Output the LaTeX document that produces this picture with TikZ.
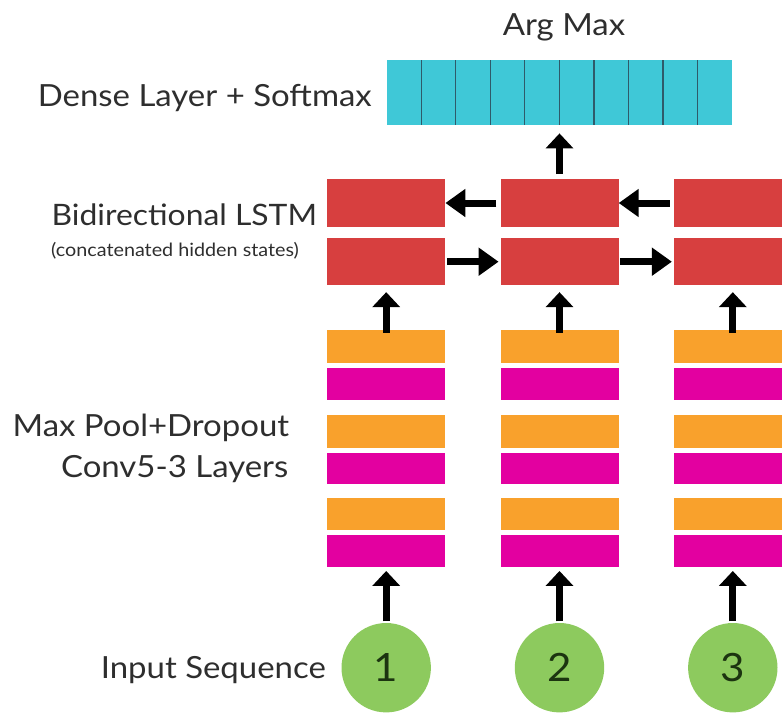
\documentclass[tikz,border=0pt]{standalone}
\usepackage{fontspec}
\setmainfont{Lato}[FakeStretch=1.08]
\usetikzlibrary{arrows.meta,calc}
\definecolor{densecol}{HTML}{3FC8D7}
\definecolor{lstmcol}{HTML}{D73F3F}
\definecolor{poolcol}{HTML}{F9A12C}
\definecolor{convcol}{HTML}{E300A0}
\definecolor{inputcol}{HTML}{8DCA5E}
\definecolor{labelcol}{HTML}{2E2E2E}
\definecolor{digitcol}{HTML}{1C3410}
\definecolor{cellline}{HTML}{2F5A6A}
\tikzset{
  box/.style={rectangle, draw=none, inner sep=0pt, minimum width=118pt},
  lstmbox/.style={box, fill=lstmcol, minimum height=47.5pt},
  poolbox/.style={box, fill=poolcol, minimum height=32.5pt},
  convbox/.style={box, fill=convcol, minimum height=31.7pt},
  inbox/.style={circle, fill=inputcol, draw=none, inner sep=0pt, minimum size=89.4pt,
    text=digitcol, font=\fontsize{39}{44}\selectfont},
  lbl/.style={inner sep=0pt, text=labelcol, font=\fontsize{30.5}{36}\selectfont},
  sublbl/.style={inner sep=0pt, text=labelcol, font=\fontsize{18.3}{22}\selectfont},
  vflow/.style={line width=7pt, -{Triangle[width=27pt,length=15pt]}},
  hflow/.style={line width=7pt, -{Triangle[width=27pt,length=20pt]}},
}
\begin{document}
\begin{tikzpicture}[x=1pt, y=-1pt]
\useasboundingbox (0,0) rectangle (782,713);
\clip (0,0) rectangle (782,713);

% dense output layer with ten cells
\node[rectangle, fill=densecol, inner sep=0pt, minimum width=345.3pt, minimum height=65pt,
  anchor=north west] (dense) at (386.7,60) {};
\foreach \k in {1,...,9}
  \draw[cellline, line width=1.3pt] ($(dense.north west)+(34.53*\k,0)$) -- ($(dense.south west)+(34.53*\k,0)$);

% three time steps
\foreach \i/\x in {1/386.2, 2/559.5, 3/732.8}{
  \node[lstmbox] (bw\i) at (\x,203.0) {};
  \node[lstmbox] (fw\i) at (\x,261.7) {};
  \node[poolbox] (pa\i) at (\x,346.4) {};
  \node[convbox] (ca\i) at (\x,384.2) {};
  \node[poolbox] (pb\i) at (\x,431.5) {};
  \node[convbox] (cb\i) at (\x,468.5) {};
  \node[poolbox] (pc\i) at (\x,514.2) {};
  \node[convbox] (cc\i) at (\x,550.9) {};
  \node[inbox] (in\i) at (\x,667.7) {\i};
  \draw[vflow, shorten <=1.5pt, shorten >=4pt] (in\i.north) -- (cc\i.south);
  \draw[vflow, shorten <=-3pt, shorten >=6.5pt] (pa\i.north) -- (fw\i.south);
}

% recurrent connections
\draw[hflow, shorten <=4pt] (bw2.west) -- (bw1.east);
\draw[hflow, shorten <=4pt] (bw3.west) -- (bw2.east);
\draw[hflow, shorten <=1.7pt, shorten >=1.7pt] (fw1.east) -- (fw2.west);
\draw[hflow, shorten <=1.7pt, shorten >=1.7pt] (fw2.east) -- (fw3.west);

% output connection
\draw[vflow, shorten <=5pt, shorten >=8pt] (bw2.north) -- (bw2.north |- dense.south);

% labels
\node[lbl, anchor=base] (argmax) at (564,35) {Arg Max};
\node[lbl, anchor=base east] (ldense) at (372,106) {Dense Layer + Softmax};
\node[lbl, anchor=base west, font=\fontsize{29.5}{35}\selectfont] (llstm) at (51.5,225.7) {Bidirectional LSTM};
\node[sublbl, anchor=base west] (lconcat) at (51,256.5) {(concatenated hidden states)};
\node[lbl, anchor=base east] (lpool) at (289.3,436.7) {Max Pool+Dropout};
\node[lbl, anchor=base east] (lconv) at (288.5,477.3) {Conv5-3 Layers};
\node[lbl, anchor=base east] (linput) at (326,678.3) {Input Sequence};
\end{tikzpicture}
\end{document}
